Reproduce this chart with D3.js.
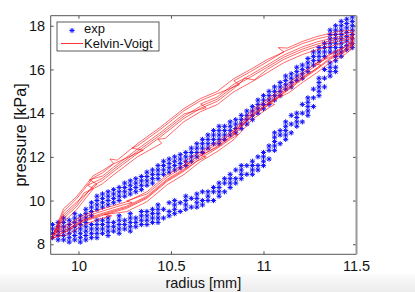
<!DOCTYPE html>
<html><head><meta charset="utf-8">
<script src="https://cdn.jsdelivr.net/npm/d3@7"></script>
<style>html,body{margin:0;padding:0;background:#fff;overflow:hidden}</style>
</head><body>
<svg id="chart" width="415" height="292"></svg>
<script>
// ---------- data ----------
const xTicks = [10, 10.5, 11, 11.5];
const yTicks = [8, 10, 12, 14, 16, 18];
const xLabel = "radius [mm]";
const yLabel = "pressure [kPa]";
const legendNames = ["exp", "Kelvin-Voigt"];

// experimental data: radius columns and the pressure values measured at each
const expX = [9.86,9.89,9.92,9.95,9.98,10.01,10.04,10.07,10.10,10.13,10.16,10.19,10.22,10.25,10.28,10.31,10.34,10.37,10.40,10.43,10.46,10.49,10.52,10.55,10.58,10.61,10.64,10.67,10.70,10.73,10.76,10.79,10.82,10.85,10.88,10.91,10.94,10.97,11.00,11.03,11.06,11.09,11.12,11.15,11.18,11.21,11.24,11.27,11.30,11.33,11.36,11.39,11.42,11.45,11.48];
const expY = [
 [8.3,8.5,8.7,8.9],
 [8.2,8.4,8.6,8.8,9.0],
 [8.2,8.4,8.6,8.8,9.0,9.2],
 [8.1,8.3,8.5,8.7,8.9,9.1],
 [8.2,8.4,8.6,8.8,9.0,9.2,9.4],
 [8.1,8.3,8.5,8.7,8.9,9.1,9.3],
 [8.2,8.4,8.6,8.8,9.0,9.2,9.4,9.6],
 [8.3,8.5,8.7,8.9,9.3,9.5,9.7,9.9],
 [8.3,8.5,8.7,8.9,9.1,9.6,9.8,10.0,10.2],
 [8.5,8.7,8.9,9.1,9.7,9.9,10.1,10.3],
 [8.4,8.6,8.8,9.0,9.2,9.8,10.0,10.2,10.4],
 [8.6,8.8,9.0,9.9,10.1,10.3,10.5],
 [8.5,8.7,8.9,9.1,9.3,10.0,10.2,10.4,10.6],
 [8.7,8.9,9.1,10.2,10.4,10.6,10.8],
 [8.6,8.8,9.0,9.2,9.4,10.3,10.5,10.7,10.9],
 [8.8,9.0,9.2,10.4,10.6,10.8,11.0],
 [8.9,9.1,9.3,9.5,10.5,10.7,10.9,11.1],
 [8.9,9.1,9.3,9.5,10.7,10.9,11.1,11.3],
 [9.0,9.2,9.4,9.6,10.8,11.0,11.2,11.4],
 [9.0,9.2,9.4,9.6,9.8,11.0,11.2,11.4,11.6],
 [9.2,9.6,11.2,11.4,11.6,11.8],
 [9.3,9.5,9.9,11.3,11.5,11.7,11.9],
 [9.4,9.6,9.8,10.0,11.4,11.6,11.8,12.0],
 [9.5,9.9,11.5,11.7,11.9,12.1],
 [9.6,9.8,10.0,10.2,11.6,11.8,12.0,12.2],
 [9.7,10.1,11.8,12.0,12.2,12.4],
 [9.7,9.9,10.1,10.3,12.0,12.2,12.4,12.6],
 [9.8,10.0,10.4,12.2,12.4,12.6,12.8],
 [10.0,10.2,10.4,12.4,12.6,12.8,13.0],
 [10.0,10.4,10.6,12.6,12.8,13.0,13.2],
 [10.2,10.4,10.6,10.8,12.6,12.8,13.0,13.2,13.4],
 [10.4,10.8,11.0,12.8,13.0,13.2,13.4],
 [10.6,10.8,11.0,11.2,13.0,13.2,13.4,13.6],
 [10.8,11.0,11.4,13.1,13.3,13.5,13.7],
 [11.0,11.2,11.4,11.6,13.3,13.5,13.7,13.9],
 [11.2,11.6,13.5,13.7,13.9,14.1],
 [11.2,11.4,11.6,11.8,13.7,13.9,14.1,14.3],
 [11.4,11.6,12.0,14.0,14.2,14.4,14.6],
 [11.6,11.8,12.0,12.2,14.2,14.4,14.6,14.8],
 [11.9,12.3,12.5,14.4,14.6,14.8,15.0],
 [12.3,12.5,12.7,12.9,13.1,14.6,14.8,15.0,15.2],
 [12.6,13.0,13.2,14.8,15.0,15.2,15.4],
 [12.8,13.0,13.2,13.4,13.6,15.1,15.3,15.5,15.7],
 [13.1,13.5,13.9,15.2,15.4,15.6,15.8],
 [13.4,13.6,13.8,14.0,15.5,15.7,15.9,16.1],
 [13.6,14.0,14.4,15.6,15.8,16.0,16.2],
 [13.9,14.1,14.3,14.5,14.7,15.9,16.1,16.3,16.5],
 [14.3,14.7,15.1,16.2,16.4,16.6,16.8],
 [14.8,15.0,15.2,15.4,15.6,16.4,16.6,16.8,17.0],
 [15.2,15.6,16.0,16.6,16.8,17.0,17.2],
 [15.7,15.9,16.1,16.3,16.8,17.0,17.2,17.4,17.6,17.8],
 [15.9,16.1,16.4,16.6,16.8,17.0,17.2,17.4,17.6,17.8,18.0],
 [16.6,16.8,17.0,17.2,17.4,17.6,17.8,18.0,18.2],
 [16.9,17.1,17.3,17.5,17.7,17.9,18.1,18.3],
 [17.0,17.2,17.4,17.6,17.8,18.0,18.2,18.4]
];

// Kelvin-Voigt model: one closed hysteresis loop per cycle [radius, pressure]
const kvCycle1 = [[9.87,8.55],[9.94,8.80],[10.03,9.25],[10.15,9.57],[10.24,9.80],[10.29,9.90],[10.26,9.98],[10.37,10.30],[10.48,11.08],[10.57,11.54],[10.66,12.14],[10.75,12.59],[10.84,13.14],[10.94,14.06],[11.04,14.65],[11.14,15.30],[11.21,15.75],[11.29,16.21],[11.36,16.67],[11.43,16.95],[11.48,17.25],
 [11.48,17.70],[11.40,17.62],[11.29,17.40],[11.21,17.18],[11.11,16.81],[11.02,16.35],[10.93,15.90],[10.84,15.48],[10.87,15.30],[10.75,14.89],[10.66,14.57],[10.57,14.11],[10.44,13.24],[10.32,12.51],[10.29,12.40],[10.35,12.30],[10.19,11.68],[10.13,11.27],[10.08,11.04],[9.99,10.08],[9.92,9.50],[9.87,8.55]];
const kvCycle2 = [[9.86,8.40],[9.94,8.59],[10.03,9.05],[10.15,9.37],[10.26,9.64],[10.37,10.10],[10.48,10.88],[10.57,11.34],[10.66,11.94],[10.75,12.39],[10.82,12.80],[10.86,13.00],[10.83,13.10],[10.94,13.86],[11.04,14.45],[11.14,15.10],[11.21,15.55],[11.29,16.01],[11.36,16.47],[11.43,16.75],[11.49,17.08],
 [11.47,17.58],[11.40,17.49],[11.29,17.26],[11.21,17.03],[11.11,16.66],[11.02,16.20],[10.93,15.75],[10.84,15.33],[10.75,14.74],[10.66,14.42],[10.69,14.25],[10.57,13.96],[10.44,13.09],[10.32,12.36],[10.19,11.53],[10.13,11.12],[10.06,10.95],[10.10,10.75],[9.99,9.93],[9.92,9.38],[9.86,8.40]];
const kvCycle3 = [[9.88,8.65],[9.94,8.90],[10.03,9.35],[10.15,9.67],[10.26,9.94],[10.37,10.40],[10.48,11.18],[10.55,11.55],[10.60,11.70],[10.57,11.78],[10.66,12.24],[10.75,12.69],[10.84,13.24],[10.94,14.16],[11.04,14.75],[11.14,15.40],[11.21,15.85],[11.29,16.31],[11.36,16.72],[11.43,17.00],[11.48,17.30],
 [11.47,17.40],[11.40,17.29],[11.29,17.06],[11.21,16.83],[11.11,16.46],[11.02,16.00],[10.95,15.52],[10.90,15.60],[10.84,15.13],[10.75,14.54],[10.66,14.22],[10.57,13.76],[10.44,12.89],[10.32,12.16],[10.19,11.33],[10.13,10.92],[10.08,10.69],[9.99,9.73],[9.92,9.18],[9.88,8.65]];
const kvCycle4 = [[9.86,8.30],[9.94,8.44],[10.03,8.90],[10.13,9.20],[10.18,9.30],[10.14,9.36],[10.26,9.49],[10.37,9.95],[10.48,10.73],[10.57,11.19],[10.66,11.79],[10.75,12.24],[10.84,12.79],[10.94,13.71],[11.02,14.20],[11.06,14.40],[11.03,14.48],[11.14,14.95],[11.21,15.40],[11.29,15.86],[11.36,16.32],[11.43,16.62],[11.48,16.95],
 [11.46,17.30],[11.40,17.14],[11.29,16.91],[11.21,16.68],[11.11,16.31],[11.02,15.85],[10.93,15.40],[10.84,14.98],[10.75,14.39],[10.66,14.07],[10.57,13.61],[10.47,12.85],[10.43,12.80],[10.45,12.62],[10.32,12.01],[10.19,11.18],[10.13,10.77],[10.08,10.54],[9.99,9.58],[9.92,9.03],[9.86,8.30]];
const kvCycle5 = [[9.85,8.20],[9.94,8.64],[10.03,9.10],[10.15,9.42],[10.26,9.69],[10.37,10.15],[10.48,10.93],[10.57,11.39],[10.64,11.80],[10.69,12.00],[10.66,12.06],[10.75,12.44],[10.84,12.99],[10.94,13.91],[11.04,14.50],[11.14,15.15],[11.21,15.60],[11.29,16.06],[11.36,16.52],[11.43,16.80],[11.48,17.12],
 [11.49,17.80],[11.40,17.74],[11.29,17.51],[11.21,17.28],[11.13,16.98],[11.08,17.00],[11.11,16.80],[11.02,16.45],[10.93,16.00],[10.84,15.58],[10.75,14.99],[10.66,14.67],[10.57,14.21],[10.44,13.34],[10.32,12.61],[10.21,11.85],[10.17,11.90],[10.19,11.70],[10.13,11.37],[10.08,11.14],[9.99,10.18],[9.92,9.63],[9.85,8.20]];
const kvCycle6 = [[9.87,8.50],[9.94,8.69],[10.03,9.15],[10.15,9.47],[10.26,9.74],[10.37,10.20],[10.48,10.98],[10.57,11.44],[10.66,12.04],[10.75,12.49],[10.84,13.04],[10.94,13.96],[11.04,14.55],[11.14,15.20],[11.21,15.65],[11.27,15.95],[11.31,16.20],[11.28,16.25],[11.36,16.57],[11.43,16.85],[11.48,17.17],
 [11.48,17.48],[11.40,17.39],[11.29,17.16],[11.21,16.93],[11.11,16.56],[11.02,16.10],[10.93,15.65],[10.84,15.23],[10.75,14.64],[10.66,14.32],[10.57,13.86],[10.44,12.99],[10.32,12.26],[10.19,11.43],[10.13,11.02],[10.05,10.70],[10.08,10.55],[10.03,10.35],[9.99,9.83],[9.92,9.28],[9.87,8.50]];
const kvCycles = [kvCycle1, kvCycle2, kvCycle3, kvCycle4, kvCycle5, kvCycle6];

// ---------- layout ----------
const L = 50.7, R = 356, T = 15.7, B = 254.3;
const x = d3.scaleLinear().domain([9.85, 11.5]).range([L, R]);
const y = d3.scaleLinear().domain([7.54, 18.46]).range([B, T]);
const FONT = "'Liberation Sans', Arial, Helvetica, sans-serif";
const svg = d3.select("#chart");

// bottom window band
const defs = svg.append("defs");
const grad = defs.append("linearGradient").attr("id","band").attr("x1",0).attr("y1",0).attr("x2",0).attr("y2",1);
grad.append("stop").attr("offset","0").attr("stop-color","#fbfbfb");
grad.append("stop").attr("offset","1").attr("stop-color","#ececec");
svg.append("rect").attr("x",0).attr("y",274).attr("width",415).attr("height",18).attr("fill","url(#band)");

defs.append("clipPath").attr("id","clip")
  .append("rect").attr("x",L).attr("y",T).attr("width",R-L).attr("height",B-T);

const plot = svg.append("g").attr("clip-path","url(#clip)");

// experimental stars
const expPts = [];
expX.forEach((xv,i) => expY[i].forEach(yv => expPts.push([xv,yv])));
const star = "M-2.6,0H2.6M0,-2.6V2.6M-1.85,-1.85L1.85,1.85M-1.85,1.85L1.85,-1.85";
plot.append("g").selectAll("path").data(expPts).join("path")
  .attr("d", star)
  .attr("transform", d => `translate(${x(d[0])},${y(d[1])})`)
  .attr("stroke","#1010ff").attr("stroke-width",1).attr("fill","none");

// model loops
const line = d3.line().x(d => x(d[0])).y(d => y(d[1]));
plot.append("g").selectAll("path").data(kvCycles).join("path")
  .attr("d", line).attr("fill","none").attr("stroke","#ff0000").attr("stroke-width",0.6);

// axes
const axisColor = "#262626";
const gx = svg.append("g").attr("transform",`translate(0,${B})`)
  .call(d3.axisBottom(x).tickValues(xTicks).tickFormat(d3.format("")).tickSizeInner(-3).tickSizeOuter(0).tickPadding(6.3));
const gy = svg.append("g").attr("transform",`translate(${L},0)`)
  .call(d3.axisLeft(y).tickValues(yTicks).tickFormat(d3.format("")).tickSizeInner(-3).tickSizeOuter(0).tickPadding(5.5));
const gxt = svg.append("g").attr("transform",`translate(0,${T})`)
  .call(d3.axisTop(x).tickValues(xTicks).tickFormat("").tickSizeInner(-3).tickSizeOuter(0));
const gyr = svg.append("g").attr("transform",`translate(${R},0)`)
  .call(d3.axisRight(y).tickValues(yTicks).tickFormat("").tickSizeInner(-3).tickSizeOuter(0));
[gx,gy,gxt,gyr].forEach(g => {
  g.select(".domain").remove();
  g.selectAll("line").attr("stroke",axisColor).attr("stroke-width",0.8);
  g.selectAll("text").attr("font-family",FONT).attr("font-size","14.5px").attr("fill","#111");
});

// box
svg.append("path").attr("d",`M${L},${B}V${T}H${R}`).attr("fill","none").attr("stroke","#555").attr("stroke-width",1);
svg.append("path").attr("d",`M${L},${B}H${R}`).attr("fill","none").attr("stroke","#555").attr("stroke-width",1);
svg.append("path").attr("d",`M${R+0.5},${T}V${B}`).attr("fill","none").attr("stroke","#999").attr("stroke-width",2);

// axis labels
svg.append("text").attr("x",(L+R)/2).attr("y",287.5).attr("text-anchor","middle")
  .attr("font-family",FONT).attr("font-size","14.5px").attr("fill","#111").text(xLabel);
svg.append("text").attr("transform",`translate(26,${(T+B)/2}) rotate(-90)`).attr("text-anchor","middle")
  .attr("font-family",FONT).attr("font-size","16px").attr("fill","#111").text(yLabel);

// legend
const lg = svg.append("g");
lg.append("rect").attr("x",57).attr("y",22).attr("width",102).attr("height",29)
  .attr("fill","#fff").attr("stroke","#333").attr("stroke-width",0.8);
lg.append("path").attr("d",star).attr("transform","translate(72,30.5)")
  .attr("stroke","#1010ff").attr("stroke-width",1).attr("fill","none");
lg.append("line").attr("x1",61).attr("x2",83).attr("y1",43.5).attr("y2",43.5)
  .attr("stroke","#ff0000").attr("stroke-width",0.8);
lg.selectAll("text").data(legendNames).join("text")
  .attr("x",84).attr("y",(d,i) => i === 0 ? 33.3 : 48.2)
  .attr("font-family",FONT).attr("font-size","13px").attr("fill","#111").text(d => d);
</script>
</body></html>
